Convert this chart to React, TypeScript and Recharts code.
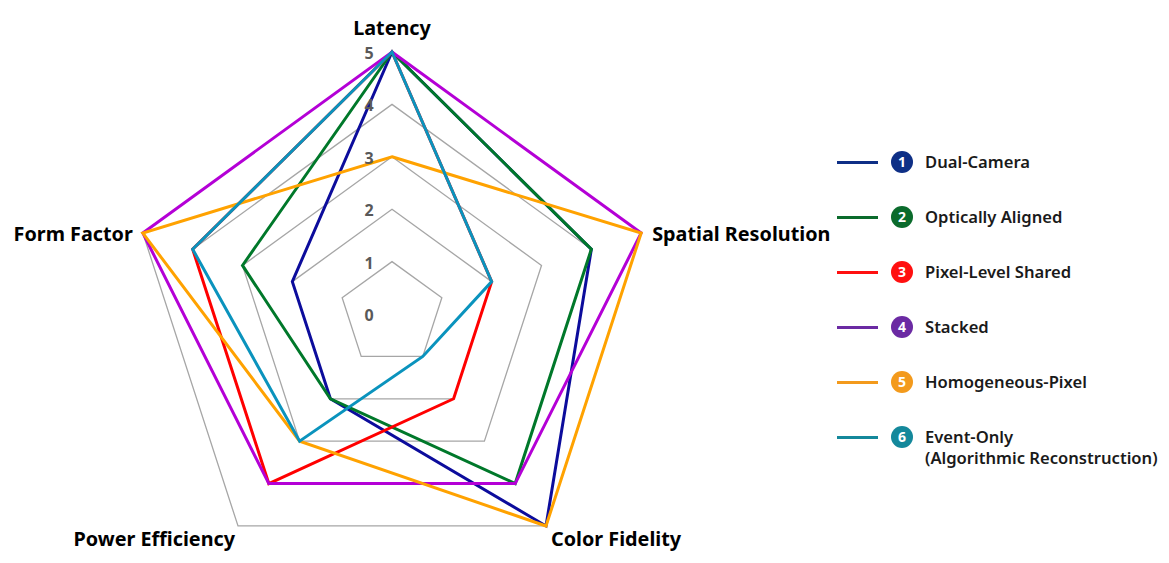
import React from 'react';
import {
  RadarChart,
  Radar,
  PolarGrid,
  PolarAngleAxis,
  PolarRadiusAxis,
  Legend,
} from 'recharts';

// axes, clockwise from the top
const axes = ['Latency', 'Spatial Resolution', 'Color Fidelity', 'Power Efficiency', 'Form Factor'];

const dualCamera = [5, 4, 5, 2, 2];
const opticallyAligned = [5, 4, 4, 2, 3];
const pixelLevelShared = [5, 2, 2, 4, 4];
const stacked = [5, 5, 4, 4, 5];
const homogeneousPixel = [3, 5, 5, 3, 5];
const eventOnly = [5, 2, 1, 3, 4];

const seriesNames = [
  'Dual-Camera',
  'Optically Aligned',
  'Pixel-Level Shared',
  'Stacked',
  'Homogeneous-Pixel',
  'Event-Only\n(Algorithmic Reconstruction)',
];
const seriesValues = [dualCamera, opticallyAligned, pixelLevelShared, stacked, homogeneousPixel, eventOnly];
const radiusTicks = [0, 1, 2, 3, 4, 5];

const lineColors = ['#0c0c9c', '#00782a', '#ff0000', '#b400d6', '#ffa200', '#0a93bd'];
const badgeColors = ['#0e2f86', '#0b6b2c', '#ff1010', '#6b2aa3', '#f39a1c', '#14889b'];

const data = axes.map((axis, i) => {
  const row: Record<string, string | number> = { axis };
  seriesValues.forEach((vals, s) => {
    row[`s${s}`] = vals[i];
  });
  return row;
});

const CX = 384;
const CY = 306;
const R = 262;
const FONT = '"Noto Sans", "DejaVu Sans", sans-serif';

const AngleTick = (props: any) => {
  const { payload } = props;
  const a = (payload.coordinate * Math.PI) / 180;
  const cos = Math.cos(a);
  const sin = Math.sin(a);
  const vx = CX + R * cos;
  const vy = CY - R * sin;
  let x = vx;
  let y = vy;
  let anchor: 'start' | 'middle' | 'end' = 'middle';
  if (sin > 0.9) {
    y = vy - 25;
  } else if (sin > 0) {
    anchor = cos > 0 ? 'start' : 'end';
    x = cos > 0 ? vx + 11 : vx - 10;
  } else {
    anchor = cos > 0 ? 'start' : 'end';
    x = cos > 0 ? vx + 5 : vx - 3;
    y = vy + 13;
  }
  return (
    <text
      x={x}
      y={y}
      textAnchor={anchor}
      dominantBaseline="central"
      fontFamily={FONT}
      fontWeight={700}
      fontSize={19.8}
      fill="#000"
    >
      {payload.value}
    </text>
  );
};

const RadiusTick = (props: any) => {
  const { x, y, payload } = props;
  return (
    <text
      x={x - 23}
      y={y + 1}
      textAnchor="middle"
      dominantBaseline="central"
      fontFamily={FONT}
      fontWeight={700}
      fontSize={16}
      fill="#595959"
    >
      {payload.value}
    </text>
  );
};

const renderLegend = (props: any) => {
  const payload = [...(props.payload || [])].sort(
    (a: any, b: any) => seriesNames.indexOf(a.value) - seriesNames.indexOf(b.value),
  );
  return (
    <div style={{ fontFamily: FONT }}>
      {payload.map((entry: any) => {
        const i = seriesNames.indexOf(entry.value);
        return (
          <div key={entry.value} style={{ display: 'flex', alignItems: 'flex-start', height: 55 }}>
            <span
              style={{
                width: 41,
                height: 3,
                marginTop: 10,
                background: badgeColors[i],
                display: 'inline-block',
                flexShrink: 0,
              }}
            />
            <span
              style={{
                width: 22,
                height: 22,
                borderRadius: 11,
                marginLeft: 13,
                background: badgeColors[i],
                color: '#fff',
                fontSize: 14,
                fontWeight: 700,
                lineHeight: '22px',
                textAlign: 'center',
                display: 'inline-block',
                flexShrink: 0,
              }}
            >
              {i + 1}
            </span>
            <span
              style={{
                marginLeft: 12,
                fontSize: 16.6,
                fontWeight: 600,
                lineHeight: '21px',
                color: '#1a1a1a',
                whiteSpace: 'pre',
                flexShrink: 0,
              }}
            >
              {entry.value}
            </span>
          </div>
        );
      })}
    </div>
  );
};

export default function App() {
  return (
    <div style={{ width: 1161, height: 547, background: '#fff', fontFamily: FONT }}>
      <RadarChart
        width={1161}
        height={547}
        data={data}
        cx={CX}
        cy={CY}
        outerRadius={R}
        margin={{ top: 0, right: 0, bottom: 0, left: 0 }}
      >
        <PolarGrid gridType="polygon" radialLines={false} stroke="#a6a6a6" strokeWidth={1.3} />
        <PolarAngleAxis dataKey="axis" tick={<AngleTick />} tickLine={false} axisLine={false} />
        <PolarRadiusAxis
          angle={90}
          domain={[0, 5]}
          tickCount={radiusTicks.length}
          ticks={radiusTicks as any}
          tick={<RadiusTick />}
          axisLine={false}
          tickLine={false}
        />
        {seriesNames.map((name, s) => (
          <Radar
            key={name}
            name={name}
            dataKey={`s${s}`}
            stroke={lineColors[s]}
            strokeWidth={3}
            fill="none"
            fillOpacity={0}
            dot={false}
            isAnimationActive={false}
          />
        ))}
        <Legend
          content={renderLegend}
          itemSorter={null as any}
          wrapperStyle={{ position: 'absolute', left: 829, top: 143, width: 330 }}
        />
      </RadarChart>
    </div>
  );
}
